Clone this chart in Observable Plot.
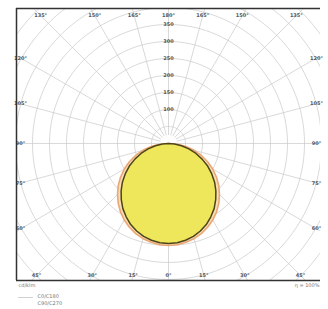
<!DOCTYPE html>
<html><head><meta charset="utf-8">
<script src="https://cdn.jsdelivr.net/npm/d3@7"></script>
<script src="https://cdn.jsdelivr.net/npm/@observablehq/plot@0.6"></script>
<style>body{margin:0;background:#fff}#chart svg{display:block;background:#fff}</style>
</head><body><div id="chart"></div>
<script>
// gamma angles (deg from nadir) and intensities in cd/klm
const gammaAngles = [0,5,10,15,20,25,30,35,40,45,50,55,60,65,70,75,80,85,90];
const c0c180 = [294,293,289,283,274,263,249,234,216,197,177,155,133,109,86,62,39,18,0];
const c90c270 = [300,299,295,290,282,272,260,246,230,212,193,172,150,127,103,78,52,26,0];
const ringValues = [50,100,150,200,250,300,350,400,450,500,550,600];
const ringLabelValues = [100,150,200,250,300,350];
const spokeAngles = [0,15,30,45,60,75,90,105,120,135,150,165,180,195,210,225,240,255,270,285,300,315,330,345];
const topTicks = [-45,-30,-15,0,15,30,45];     // from zenith
const bottomTicks = [-45,-30,-15,0,15,30,45];  // from nadir
const sideTicks = [60,75,90,105,120];          // from nadir
const unitLabel = "cd/klm";
const effLabel = "η = 100%";
const seriesNames = ["C0/C180","C90/C270"];

const xDomain = [-447, 447];
const yDomain = [-403, 397];
const rad = d => d * Math.PI / 180;

function curve(vals) {
  const pts = [];
  for (let i = gammaAngles.length - 1; i >= 0; i--) pts.push({x: -vals[i]*Math.sin(rad(gammaAngles[i])), y: -vals[i]*Math.cos(rad(gammaAngles[i]))});
  for (let i = 1; i < gammaAngles.length; i++) pts.push({x: vals[i]*Math.sin(rad(gammaAngles[i])), y: -vals[i]*Math.cos(rad(gammaAngles[i]))});
  return pts;
}
const rings = [];
for (const r of ringValues) for (let a = 0; a <= 360; a += 3) rings.push({r, x: r*Math.sin(rad(a)), y: r*Math.cos(rad(a))});
const spokes = spokeAngles.map(a => ({x1: 25*Math.sin(rad(a)), y1: -25*Math.cos(rad(a)), x2: 900*Math.sin(rad(a)), y2: -900*Math.cos(rad(a))}));

const topY = 376, botY = -388, sideX = 435;
const labels = [
  ...topTicks.map(a => ({x: topY*Math.tan(rad(a)), y: topY, t: (180-Math.abs(a)) + "°"})),
  ...bottomTicks.map(a => ({x: -botY*Math.tan(rad(a)), y: botY, t: Math.abs(a) + "°"})),
  ...sideTicks.map(a => ({x: -sideX, y: -sideX*Math.cos(rad(a))/Math.sin(rad(a)), t: a + "°"})),
  ...sideTicks.map(a => ({x: sideX, y: -sideX*Math.cos(rad(a))/Math.sin(rad(a)), t: a + "°"}))
];
const ringLabels = ringLabelValues.map(v => ({x: 0, y: v, t: String(v)}));

const plot = Plot.plot({
  width: 328, height: 309,
  marginLeft: 16, marginRight: 8, marginTop: 8, marginBottom: 29,
  x: {domain: xDomain, axis: null},
  y: {domain: yDomain, axis: null},
  style: {fontFamily: "DejaVu Sans, sans-serif", background: "#fff"},
  marks: [
    Plot.line(rings, {x: "x", y: "y", z: "r", stroke: "#c8c8c8", strokeWidth: 0.7, clip: true}),
    Plot.link(spokes, {x1: "x1", y1: "y1", x2: "x2", y2: "y2", stroke: "#c8c8c8", strokeWidth: 0.7, clip: true}),
    Plot.line(curve(c90c270), {x: "x", y: "y", fill: "#f6dfb4", stroke: "#eba676", strokeWidth: 1.6}),
    Plot.line(curve(c0c180), {x: "x", y: "y", fill: "#eee75c", stroke: "#4f4418", strokeWidth: 1.5}),
    Plot.text(ringLabels, {x: "x", y: "y", text: "t", fontSize: 5, fill: "#555", fontWeight: "bold"}),
    Plot.text(labels, {x: "x", y: "y", text: "t", fontSize: 5, fill: "#555", fontWeight: "bold"}),
    Plot.ruleX([xDomain[0]], {stroke: "#333", strokeWidth: 1.5}),
    Plot.ruleY([yDomain[0], yDomain[1]], {stroke: "#333", strokeWidth: 1.5}),
    Plot.text([unitLabel], {frameAnchor: "bottom-left", dx: 2, dy: 6, fontSize: 5, fill: "#777", textAnchor: "start"}),
    Plot.text([effLabel], {frameAnchor: "bottom-right", dx: -1, dy: 6, fontSize: 5, fill: "#777", textAnchor: "end"}),
    Plot.ruleY([0], {frameAnchor: "bottom-left", x1: xDomain[0] + 6, x2: xDomain[0] + 50, y: () => yDomain[0], dy: 17, stroke: "#bbb", strokeWidth: 0.7}),
    Plot.text([seriesNames[0]], {frameAnchor: "bottom-left", dx: 21, dy: 17, fontSize: 5, fill: "#777", textAnchor: "start"}),
    Plot.text([seriesNames[1]], {frameAnchor: "bottom-left", dx: 21, dy: 24, fontSize: 5, fill: "#777", textAnchor: "start"})
  ]
});
document.getElementById("chart").appendChild(plot);
</script>
</body></html>
